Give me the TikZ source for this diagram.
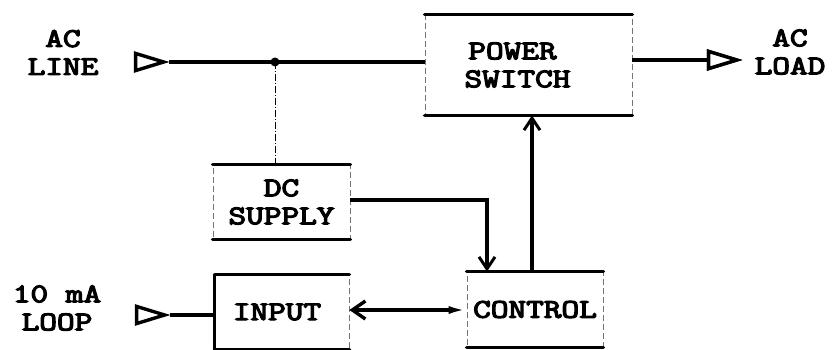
\documentclass[tikz,border=0pt]{standalone}
\usepackage{fontspec}
\newfontfamily\tw[FakeBold=4]{Latin Modern Mono}
\newcommand\sx[1]{\scalebox{1.27}[1]{#1}}
\usetikzlibrary{arrows.meta,shapes.geometric}
\begin{document}
\begin{tikzpicture}[x=1pt,y=-1pt,
  txt/.style={font=\tw\fontsize{27}{28}\selectfont, align=center, inner sep=0pt},
  blk/.style={txt, draw=black!55, line width=0.8pt, dash pattern=on 6pt off 3pt},
  edge/.style={line width=3.6pt, line cap=round},
  wire/.style={line width=3.2pt},
  term/.style={isosceles triangle, isosceles triangle apex angle=34, draw, line width=3.4pt,
     minimum height=28pt, minimum width=15pt, inner sep=0pt, fill=white},
  barb/.style={-{Straight Barb[length=12pt,width=16pt,line width=3pt]}}
]
\useasboundingbox (0,0) rectangle (836,350);
% boxes
\node[blk, minimum width=207pt, minimum height=100pt] (ps) at (528.5,65) {\sx{POWER}\hspace*{32pt}\\\sx{SWITCH}\hspace*{22pt}};
\node[blk, minimum width=137pt, minimum height=74pt] (dc) at (281.5,202) {\sx{DC}\\\sx{SUPPLY}};
\node[blk, minimum width=134pt, minimum height=74pt] (in) at (282,312) {\sx{INPUT}\hspace*{10pt}};
\node[blk, minimum width=136pt, minimum height=75pt] (ctl) at (535,309.5) {\sx{CONTROL}};
\foreach \b in {ps,dc,in,ctl}{
  \draw[edge] (\b.north west) -- (\b.north east);
  \draw[edge] (\b.south west) -- (\b.south east);
}
\draw[wire] (in.north west) -- (in.south west);
% labels
\node[txt] (lAC) at (63,52.5) {\sx{AC}\\\sx{LINE}};
\node[txt] (lLoad) at (790,52) {\sx{AC}\\\sx{LOAD}};
\node[txt] (lLoop) at (57,308) {\sx{10 mA}\\\sx{LOOP}};
% terminals
\node[term] (tAC) at (142,62) {};
\node[term] (tOut) at (715,60) {};
\node[term] (tLoop) at (143,315) {};
% AC line
\coordinate (j) at (275,62);
\draw[wire] (tAC.apex) -- (tAC.apex -| ps.west);
\fill (j) circle (4.5pt);
\draw[line width=1pt, dash pattern=on 7pt off 2pt on 1pt off 2pt] (j) -- (j |- dc.north);
% output
\draw[wire] (ps.east |- tOut) -- (tOut.west);
\node[term] at (tOut) {};
% loop
\draw[wire] (tLoop.apex) -- (tLoop.apex -| in.west);
% dc to control
\coordinate (k) at (487,200);
\draw[wire, barb] (dc.east |- k) -- (k) -- (k |- ctl.north);
% control to power switch
\draw[wire, barb] ([xshift=-3pt]ctl.north) -- ([xshift=-3pt]ctl.north |- ps.south);
% input <-> control
\coordinate (m) at (0,310);
\draw[wire, {Straight Barb[length=13pt,width=18pt,line width=3.4pt]}-{Latex[length=18pt,width=8pt]}]
  (in.east |- m) -- (ctl.west |- m);
\end{tikzpicture}
\end{document}
